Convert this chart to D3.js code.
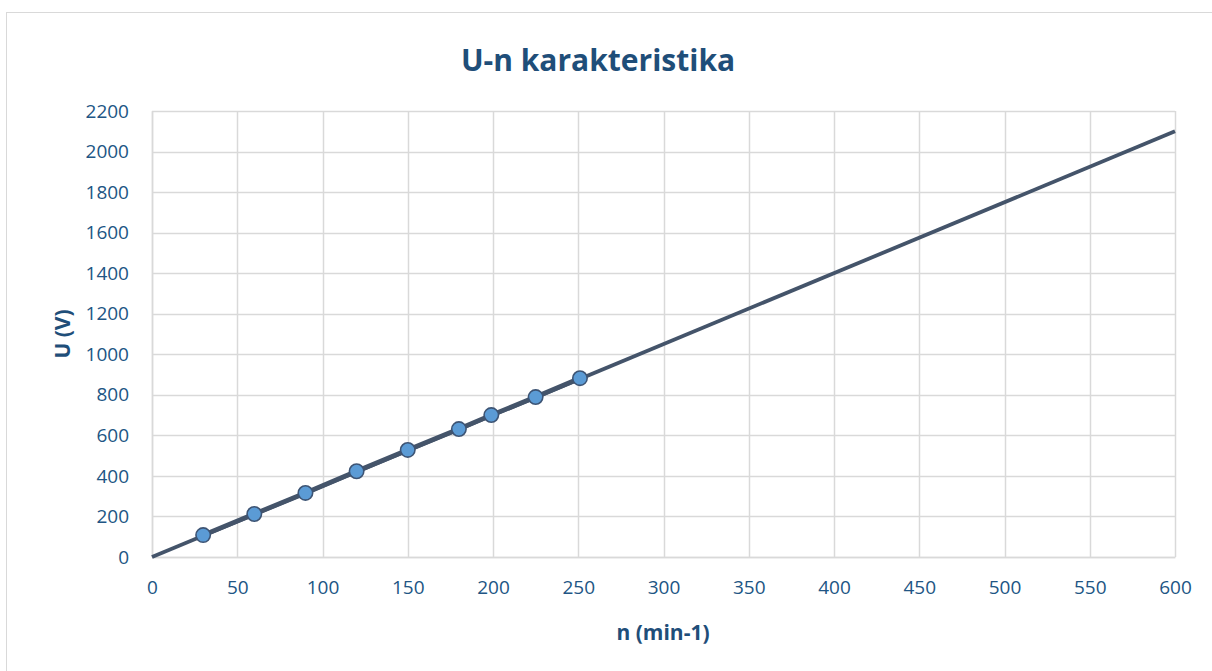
<!DOCTYPE html>
<html><head><meta charset="utf-8">
<script src="https://cdn.jsdelivr.net/npm/d3@7"></script>
<style>body{margin:0;background:#fff;}svg{display:block;}</style>
</head><body>
<script>
const title = "U-n karakteristika";
const xTitle = "n (min-1)";
const yTitle = "U (V)";
const nValues = [30, 60, 90, 120, 150, 180, 199, 225, 251];
const uValues = [108, 212, 316, 423, 528, 631, 700, 789, 882];
const trendN = [0, 600];
const trendU = [0, 2100];
const xTicks = [0,50,100,150,200,250,300,350,400,450,500,550,600];
const yTicks = [0,200,400,600,800,1000,1200,1400,1600,1800,2000,2200];

const W = 1212, H = 671;
const svg = d3.select("body").append("svg").attr("width", W).attr("height", H);
svg.append("rect").attr("x",6.5).attr("y",12.5).attr("width",1220).attr("height",700)
  .attr("fill","#fff").attr("stroke","#d9d9d9").attr("stroke-width",1);

const m = {l:152, r:1175, t:111, b:557};
const x = d3.scaleLinear().domain([0,600]).range([m.l, m.r]);
const y = d3.scaleLinear().domain([0,2200]).range([m.b, m.t]);
const textColor = "#215584";
const font = "'Open Sans', 'Noto Sans', sans-serif";
const fmt = d3.format("d");

// gridlines
const g = svg.append("g");
g.selectAll(".vg").data(xTicks).join("line")
  .attr("x1", d=>Math.round(x(d))+0.5).attr("x2", d=>Math.round(x(d))+0.5)
  .attr("y1", m.t).attr("y2", m.b).attr("stroke","#d9d9d9").attr("stroke-width",1.5);
g.selectAll(".hg").data(yTicks).join("line")
  .attr("y1", d=>Math.round(y(d))+0.5).attr("y2", d=>Math.round(y(d))+0.5)
  .attr("x1", m.l).attr("x2", m.r).attr("stroke","#d9d9d9").attr("stroke-width",1.5);

// axes via d3
const xAxis = svg.append("g").attr("transform",`translate(0,${m.b})`)
  .call(d3.axisBottom(x).tickValues(xTicks).tickFormat(fmt).tickSize(0).tickPadding(24));
xAxis.select(".domain").attr("stroke","#d9d9d9").attr("stroke-width",1.5);
xAxis.selectAll("text").attr("fill",textColor).style("font-family",font).style("font-size","19px");

const yAxis = svg.append("g").attr("transform",`translate(${m.l},0)`)
  .call(d3.axisLeft(y).tickValues(yTicks).tickFormat(fmt).tickSize(0).tickPadding(23));
yAxis.select(".domain").attr("stroke","#d9d9d9").attr("stroke-width",1.5);
yAxis.selectAll("text").attr("fill",textColor).style("font-family",font).style("font-size","19px");

// trend line
const trend = trendN.map((n,i)=>[n, trendU[i]]);
const line = d3.line().x(d=>x(d[0])).y(d=>y(d[1]));
svg.append("path").datum(trend).attr("d", line).attr("fill","none")
  .attr("stroke","#44546a").attr("stroke-width",3.8);
// data series line
const pts = nValues.map((n,i)=>[n, uValues[i]]);
svg.append("path").datum(pts).attr("d", line).attr("fill","none")
  .attr("stroke","#44546a").attr("stroke-width",4.8);
svg.selectAll(".pt").data(pts).join("circle")
  .attr("cx", d=>x(d[0])).attr("cy", d=>y(d[1])).attr("r",7.2)
  .attr("fill","#5b9bd5").attr("stroke","#3d5474").attr("stroke-width",1.6);

// titles
svg.append("text").attr("x",598).attr("y",71).attr("text-anchor","middle")
  .attr("fill","#1f4e79").style("font-family",font).style("font-weight","bold")
  .style("font-size","30px").text(title);
svg.append("text").attr("x",663).attr("y",640).attr("text-anchor","middle")
  .attr("fill","#1f4e79").style("font-family",font).style("font-weight","bold")
  .style("font-size","21px").text(xTitle);
svg.append("text").attr("transform","translate(70,334) rotate(-90)").attr("text-anchor","middle")
  .attr("fill","#1f4e79").style("font-family",font).style("font-weight","bold")
  .style("font-size","21px").text(yTitle);
</script>
</body></html>
